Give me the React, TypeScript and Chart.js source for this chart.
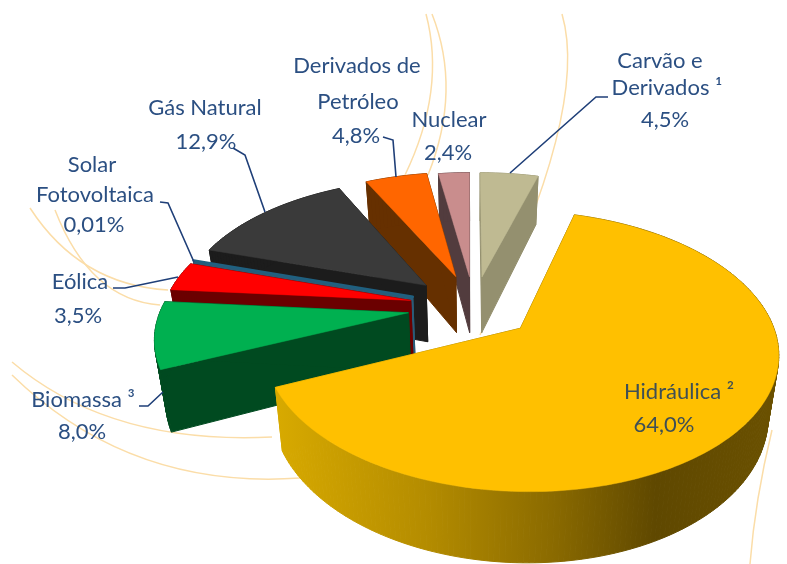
import React, { useEffect, useRef } from "react";
import { Chart, registerables } from "chart.js";

Chart.register(...registerables);

const categories = ["Hidráulica ²", "Biomassa ³", "Eólica", "Solar Fotovoltaica", "Gás Natural", "Derivados de Petróleo", "Nuclear", "Carvão e Derivados ¹"];
const shares = [64.0, 8.0, 3.5, 0.01, 12.9, 4.8, 2.4, 4.5];
const topColors = ["#FFC000", "#00B050", "#FF0000", "#1F6080", "#3A3A3A", "#FF6600", "#C98D8D", "#BFBA92"];
const wallColors = ["#8A6A00", "#004A20", "#6B0000", "#2A5C78", "#1C1C1C", "#663000", "#523C3E", "#94906F"];
const explosions = [60, 66, 65, 65, 65, 63, 60, 60];
const paintOrder = [7, 6, 5, 4, 3, 2, 1, 0];

const labelLines: [string, number, number][][] = [
  [["Hidráulica ²", 679, 392], ["64,0%", 664, 425]],
  [["Biomassa ³", 83, 400], ["8,0%", 82, 432]],
  [["Eólica", 80, 282], ["3,5%", 78, 316]],
  [["Solar", 92, 165], ["Fotovoltaica", 95, 195], ["0,01%", 94, 225]],
  [["Gás Natural", 205, 108], ["12,9%", 206, 142]],
  [["Derivados de", 357, 66], ["Petróleo", 358, 102], ["4,8%", 356, 136]],
  [["Nuclear", 449, 120], ["2,4%", 448, 153]],
  [["Carvão e", 660, 61], ["Derivados ¹", 667, 88], ["4,5%", 665, 120]],
];

const leaders: number[][][] = [
  [[139, 406], [148, 406], [163, 392]],
  [[113, 288], [125, 288], [178, 277]],
  [[160, 202], [168, 203], [194, 262]],
  [[233, 148], [245, 155], [265, 212]],
  [[383, 137], [393, 140], [396, 177]],
  [[608, 97], [596, 97], [510, 173]],
];

const rings: number[][] = [
  [426, 14, 446, 90, 405, 175],
  [432, 14, 462, 90, 428, 175],
  [562, 14, 590, 110, 480, 335],
  [30, 208, 80, 285, 168, 290],
  [55, 210, 90, 300, 160, 305],
  [12, 362, 110, 445, 272, 437],
  [12, 375, 130, 490, 300, 478],
  [772, 430, 755, 500, 750, 564],
];

const CX = 474;
const CY = 307;
const RADIUS = 247;
const TILT = 0.525;
const PERSP = 0.16;
const DEPTH = 58;
const SHRINK = 0.035;

function project(x: number, y: number): [number, number] {
  const w = 1 - (PERSP * y) / RADIUS;
  return [CX + x / w, CY + (TILT * y) / w];
}

function slicePolygon(start: number, end: number, explode: number) {
  const mid = (start + end) / 2;
  const ox = Math.cos(mid) * explode;
  const oy = Math.sin(mid) * explode;
  const pts: [number, number, number, number][] = [];
  const add = (x: number, y: number) => {
    const w = 1 - (PERSP * y) / RADIUS;
    const [sx, sy] = project(x, y);
    pts.push([sx, sy, CX + (sx - CX) * (1 - SHRINK), sy + DEPTH / w]);
  };
  add(ox, oy);
  const steps = Math.max(2, Math.ceil((end - start) / 0.02));
  for (let i = 0; i <= steps; i++) {
    const a = start + ((end - start) * i) / steps;
    add(ox + Math.cos(a) * RADIUS, oy + Math.sin(a) * RADIUS);
  }
  return pts;
}

const piePlugin = {
  id: "perspectivePie",
  beforeDraw(chart: any) {
    const { ctx } = chart;
    ctx.save();
    ctx.strokeStyle = "#FBDDA8";
    ctx.lineWidth = 1.5;
    rings.forEach(([a, b, c, d, e, f]) => {
      ctx.beginPath();
      ctx.moveTo(a, b);
      ctx.quadraticCurveTo(c, d, e, f);
      ctx.stroke();
    });
    ctx.restore();
  },
  beforeDatasetDraw(chart: any) {
    const { ctx } = chart;
    const arcs = chart.getDatasetMeta(0).data;
    ctx.save();
    ctx.lineJoin = "round";
    paintOrder.forEach((i) => {
      const arc = arcs[i];
      const { startAngle, endAngle } = arc.getProps(["startAngle", "endAngle"], true);
      const pts = slicePolygon(startAngle, endAngle, arc.options.offset);
      let wall: any = wallColors[i];
      if (i === 0) {
        const g = ctx.createLinearGradient(275, 0, 782, 0);
        g.addColorStop(0, "#D8AA00");
        g.addColorStop(0.3, "#B48C00");
        g.addColorStop(0.55, "#8A6A00");
        g.addColorStop(0.75, "#5F4800");
        g.addColorStop(1, "#6B5100");
        wall = g;
      }
      ctx.fillStyle = wall;
      ctx.strokeStyle = wall;
      ctx.lineWidth = 1;
      for (let k = 0; k < pts.length; k++) {
        const p = pts[k];
        const q = pts[(k + 1) % pts.length];
        ctx.beginPath();
        ctx.moveTo(p[0], p[1]);
        ctx.lineTo(q[0], q[1]);
        ctx.lineTo(q[2], q[3]);
        ctx.lineTo(p[2], p[3]);
        ctx.closePath();
        ctx.fill();
        ctx.stroke();
      }
      ctx.fillStyle = arc.options.backgroundColor;
      ctx.strokeStyle = arc.options.backgroundColor;
      ctx.lineWidth = i === 3 ? 2.5 : 0.5;
      ctx.beginPath();
      pts.forEach((p, k) => (k ? ctx.lineTo(p[0], p[1]) : ctx.moveTo(p[0], p[1])));
      ctx.closePath();
      ctx.fill();
      ctx.stroke();
    });
    ctx.restore();
    return false;
  },
  afterDatasetsDraw(chart: any) {
    const { ctx } = chart;
    ctx.save();
    ctx.strokeStyle = "#1F3F78";
    ctx.lineWidth = 1.6;
    leaders.forEach((l) => {
      ctx.beginPath();
      l.forEach(([x, y], k) => (k ? ctx.lineTo(x, y) : ctx.moveTo(x, y)));
      ctx.stroke();
    });
    ctx.font = '22px "Lato"';
    ctx.textAlign = "center";
    ctx.textBaseline = "middle";
    labelLines.forEach((lines, i) => {
      ctx.fillStyle = i === 0 ? "#3F4F55" : "#2B4F82";
      lines.forEach(([t, x, y]) => ctx.fillText(t, x, y));
    });
    ctx.restore();
  },
};

export default function App() {
  const ref = useRef<HTMLCanvasElement | null>(null);
  useEffect(() => {
    const chart = new Chart(ref.current!, {
      type: "pie",
      data: {
        labels: categories,
        datasets: [
          {
            data: shares,
            backgroundColor: topColors,
            offset: explosions,
            borderWidth: 0,
          },
        ],
      },
      options: {
        animation: false,
        responsive: false,
        rotation: 16,
        plugins: { legend: { display: false }, tooltip: { enabled: false } },
      },
      plugins: [piePlugin],
    } as any);
    return () => chart.destroy();
  }, []);
  return (
    <div style={{ position: "absolute", left: 0, top: 0, width: 787, height: 564, background: "#fff" }}>
      <canvas ref={ref} width={787} height={564} style={{ display: "block", filter: "blur(0.5px)" }} />
    </div>
  );
}
